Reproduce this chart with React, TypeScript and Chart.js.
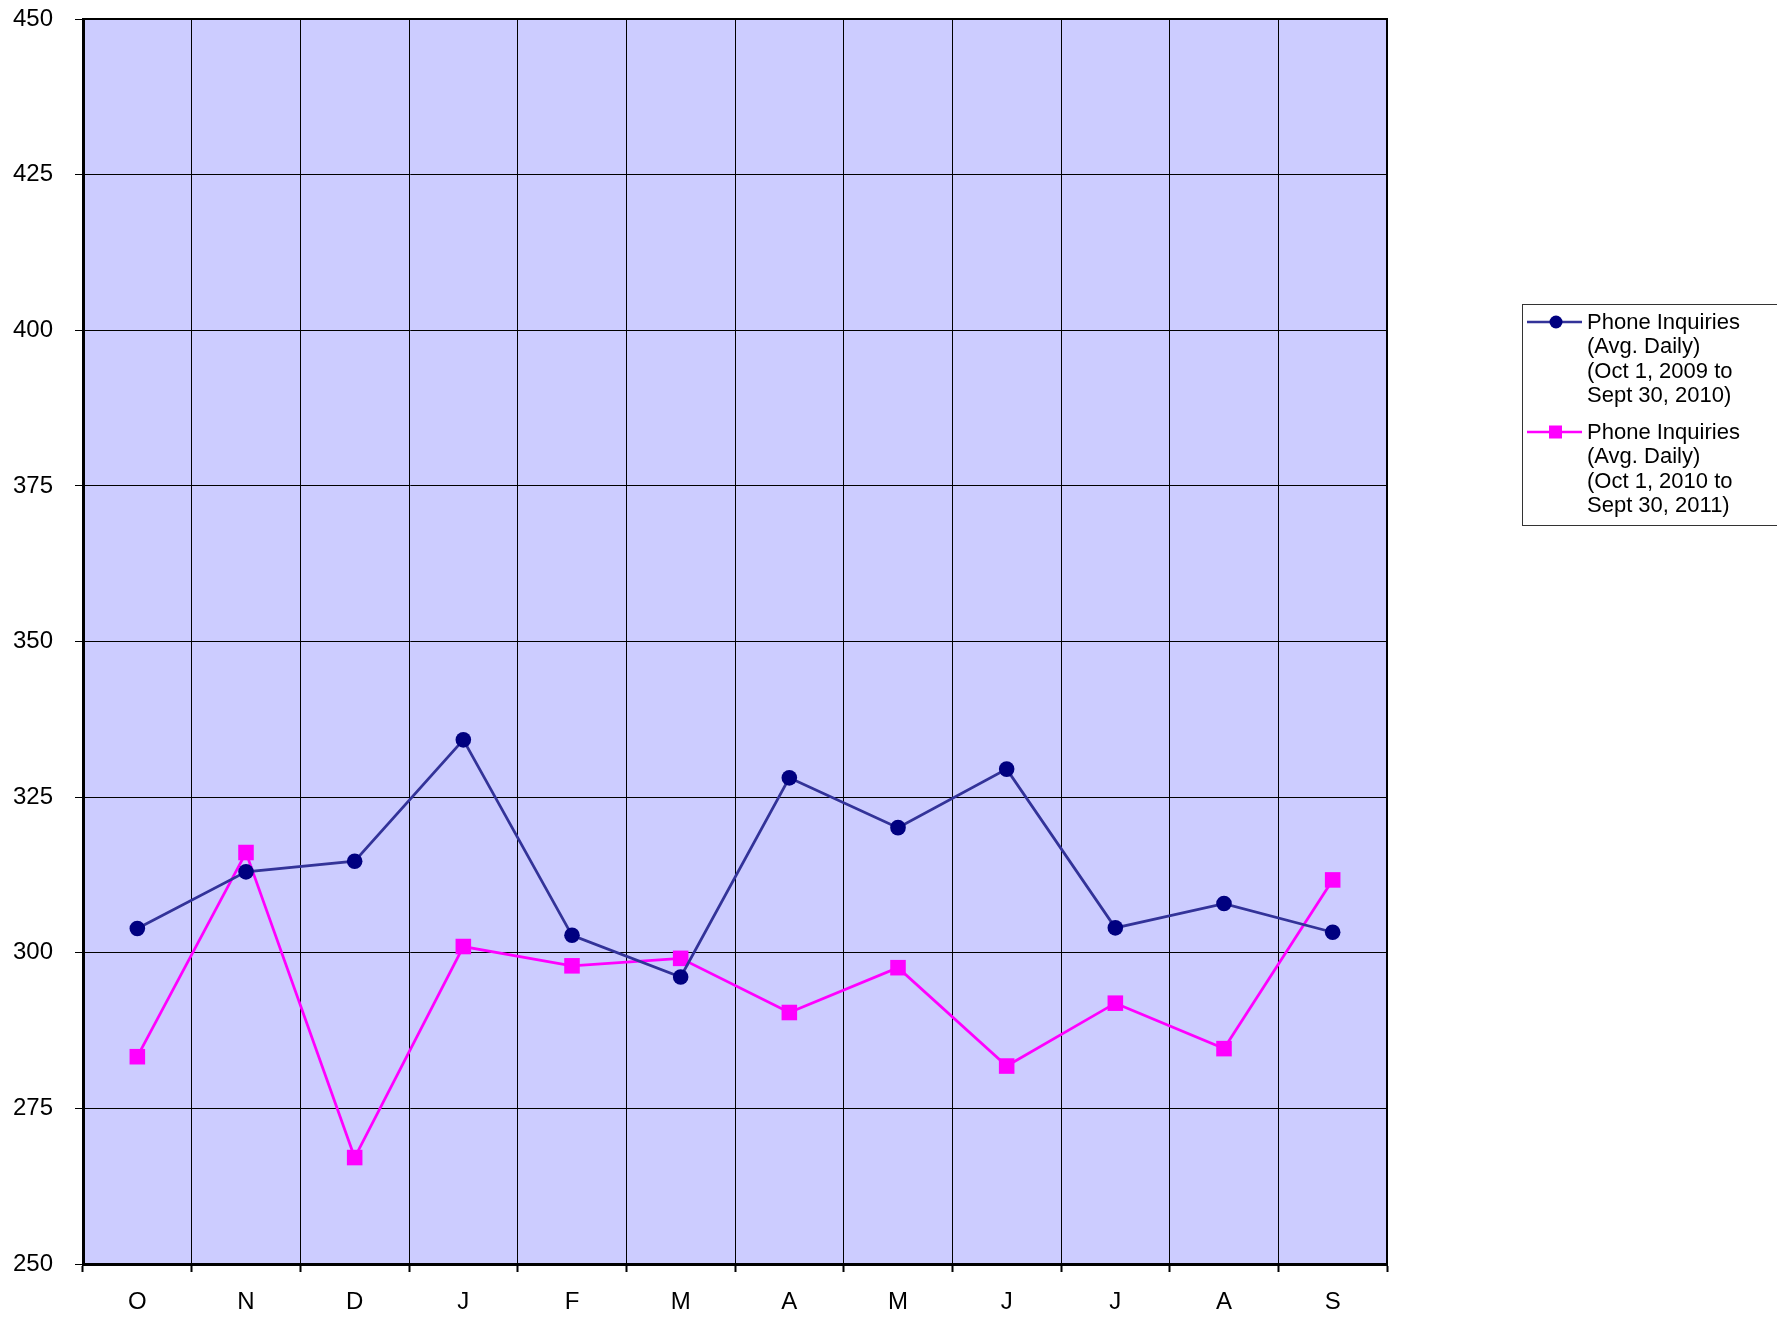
import React, { useEffect, useRef } from "react";
import { Chart, registerables } from "chart.js";

Chart.register(...registerables);

const months = ["O", "N", "D", "J", "F", "M", "A", "M", "J", "J", "A", "S"];
const inquiries2009 = [303.9, 313.0, 314.7, 334.2, 302.8, 296.1, 328.1, 320.1, 329.5, 304.0, 307.9, 303.3];
const inquiries2010 = [283.3, 316.1, 267.1, 301.0, 297.9, 299.1, 290.4, 297.6, 281.8, 291.9, 284.6, 311.7];
const legendLabels2009 = ["Phone Inquiries", "(Avg. Daily)", "(Oct 1, 2009 to", "Sept 30, 2010)"];
const legendLabels2010 = ["Phone Inquiries", "(Avg. Daily)", "(Oct 1, 2010 to", "Sept 30, 2011)"];
const yMin = 250;
const yMax = 450;
const yStep = 25;

const FONT = "'Liberation Sans', Arial, sans-serif";

const bgPlugin = {
  id: "plotBg",
  beforeDraw(chart: any) {
    const { ctx, chartArea: a } = chart;
    ctx.save();
    ctx.fillStyle = "#CCCCFF";
    ctx.fillRect(a.left, a.top, a.right - a.left, a.bottom - a.top);
    ctx.restore();
  },
  afterDraw(chart: any) {
    const { ctx, chartArea: a } = chart;
    ctx.save();
    ctx.strokeStyle = "#000";
    ctx.lineWidth = 2;
    ctx.beginPath();
    ctx.moveTo(a.left, a.top);
    ctx.lineTo(a.right, a.top);
    ctx.lineTo(a.right, a.bottom);
    ctx.stroke();
    ctx.restore();

    // legend
    const groups = [
      { lines: legendLabels2009, color: "#333399", mColor: "#000080", style: "circle", y: 322 },
      { lines: legendLabels2010, color: "#FF00FF", mColor: "#FF00FF", style: "rect", y: 432 },
    ];
    ctx.save();
    ctx.strokeStyle = "#333";
    ctx.lineWidth = 1;
    ctx.strokeRect(1522.5, 304.5, 300, 221);
    ctx.font = `22px ${FONT}`;
    ctx.fillStyle = "#000";
    ctx.textBaseline = "middle";
    ctx.textAlign = "left";
    for (const g of groups) {
      ctx.strokeStyle = g.color;
      ctx.lineWidth = 2.5;
      ctx.beginPath();
      ctx.moveTo(1527, g.y);
      ctx.lineTo(1582, g.y);
      ctx.stroke();
      ctx.fillStyle = g.mColor;
      if (g.style === "circle") {
        ctx.beginPath();
        ctx.arc(1556, g.y, 6.5, 0, Math.PI * 2);
        ctx.fill();
      } else {
        ctx.fillRect(1549, g.y - 6.5, 13, 13);
      }
      ctx.fillStyle = "#000";
      g.lines.forEach((t, i) => {
        ctx.fillText(t, 1587, g.y + 1 + i * 24.4);
      });
    }
    ctx.restore();
  },
};

export default function App() {
  const ref = useRef<HTMLCanvasElement>(null);
  useEffect(() => {
    if (!ref.current) return;
    const chart = new Chart(ref.current, {
      type: "line",
      data: {
        labels: months,
        datasets: [
          {
            label: legendLabels2009.join(" "),
            data: inquiries2009,
            borderColor: "#333399",
            backgroundColor: "#000080",
            pointBackgroundColor: "#000080",
            pointBorderColor: "#000080",
            pointStyle: "circle",
            pointRadius: 7.8,
            pointBorderWidth: 0,
            borderWidth: 2.75,
            tension: 0,
          },
          {
            label: legendLabels2010.join(" "),
            data: inquiries2010,
            borderColor: "#FF00FF",
            backgroundColor: "#FF00FF",
            pointBackgroundColor: "#FF00FF",
            pointBorderColor: "#FF00FF",
            pointStyle: "rect",
            pointRadius: 11,
            pointBorderWidth: 0,
            borderWidth: 2.75,
            tension: 0,
          },
        ],
      },
      options: {
        responsive: false,
        animation: false,
        layout: { autoPadding: false, padding: { left: 0, top: 19, right: 390, bottom: 0 } },
        plugins: { legend: { display: false }, tooltip: { enabled: false } },
        scales: {
          x: {
            offset: true,
            grid: { offset: true, color: "#000", lineWidth: 1, tickLength: 8, tickColor: "#000", tickWidth: 2 },
            border: { color: "#000", width: 3 },
            ticks: { color: "#000", font: { family: FONT, size: 24 }, padding: 16, maxRotation: 0, autoSkip: false },
            afterFit(scale: any) {
              scale.height = 55;
              scale.paddingLeft = 0;
              scale.paddingRight = 0;
            },
          },
          y: {
            min: yMin,
            max: yMax,
            grid: { color: "#000", lineWidth: 1, tickLength: 8, tickColor: "#000" },
            border: { color: "#000", width: 3 },
            ticks: { stepSize: yStep, color: "#000", font: { family: FONT, size: 24 }, padding: 22 },
            afterFit(scale: any) {
              scale.width = 83;
              scale.paddingTop = 0;
              scale.paddingBottom = 0;
            },
          },
        },
      },
      plugins: [bgPlugin],
    });
    return () => chart.destroy();
  }, []);
  return (
    <div style={{ position: "absolute", left: 0, top: 0, width: 1777, height: 1319 }}>
      <canvas ref={ref} width={1777} height={1319} style={{ display: "block" }} />
    </div>
  );
}
